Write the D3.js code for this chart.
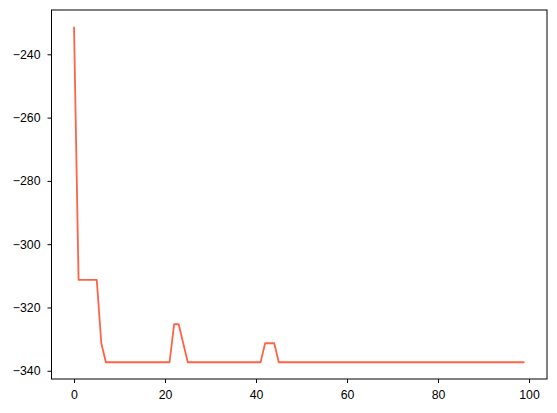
<!DOCTYPE html>
<html>
<head>
<meta charset="utf-8">
<script src="https://cdn.jsdelivr.net/npm/d3@7"></script>
<style>
  body { margin: 0; background: #fff; }
  svg { display: block; }
  .axis text { font-family: "Liberation Sans", Arial, sans-serif; font-size: 12.3px; fill: #000; }
  .axis path, .axis line { stroke: #000; stroke-width: 1; }
</style>
</head>
<body>
<div id="graphic"></div>
<script>
// values, one per step 0..99
var steps = d3.range(0, 100);
var values = [-231.3,
  -311.3, -311.3, -311.3, -311.3, -311.3,
  -331.3,
  -337.3, -337.3, -337.3, -337.3, -337.3, -337.3, -337.3, -337.3,
  -337.3, -337.3, -337.3, -337.3, -337.3, -337.3, -337.3,
  -325.3, -325.3,
  -331.3,
  -337.3, -337.3, -337.3, -337.3, -337.3, -337.3, -337.3, -337.3, -337.3,
  -337.3, -337.3, -337.3, -337.3, -337.3, -337.3, -337.3, -337.3,
  -331.3, -331.3, -331.3
];
while (values.length < steps.length) values.push(-337.3);

var xTicks = [0, 20, 40, 60, 80, 100];
var yTicks = [-340, -320, -300, -280, -260, -240];

var width = 557, height = 413;
var margin = {top: 10, right: 10, bottom: 34, left: 51.5};
var w = width - margin.left - margin.right;
var h = height - margin.top - margin.bottom;

var svg = d3.select('#graphic').append('svg')
  .attr('width', width)
  .attr('height', height);

var g = svg.append('g')
  .attr('transform', 'translate(' + margin.left + ',' + margin.top + ')');

// matplotlib style 5% padding
var xMin = d3.min(steps), xMax = d3.max(steps);
var yMin = d3.min(values), yMax = d3.max(values);
var xPad = (xMax - xMin) * 0.05, yPad = (yMax - yMin) * 0.05;

var x = d3.scaleLinear().domain([xMin - xPad, xMax + xPad]).range([0, w]);
var y = d3.scaleLinear().domain([yMin - yPad, yMax + yPad]).range([h, 0]);

var fmt = function(d) { return String(d).replace('-', '\u2212'); };

g.append('g')
  .attr('class', 'x axis')
  .attr('transform', 'translate(0,' + h + ')')
  .call(d3.axisBottom(x).tickValues(xTicks).tickFormat(fmt).tickSize(4).tickPadding(7))
  .call(s => s.select('.domain').remove());

g.append('g')
  .attr('class', 'y axis')
  .call(d3.axisLeft(y).tickValues(yTicks).tickFormat(fmt).tickSize(4).tickPadding(7))
  .call(s => s.select('.domain').remove());

g.append('path')
  .datum(d3.zip(steps, values))
  .attr('fill', 'none')
  .attr('stroke', '#ff6347')
  .attr('stroke-width', 1.8)
  .attr('stroke-linejoin', 'round')
  .attr('d', d3.line().x(d => x(d[0])).y(d => y(d[1])));

// frame
g.append('rect')
  .attr('width', w)
  .attr('height', h)
  .attr('fill', 'none')
  .attr('stroke', '#000')
  .attr('stroke-width', 1);
</script>
</body>
</html>
